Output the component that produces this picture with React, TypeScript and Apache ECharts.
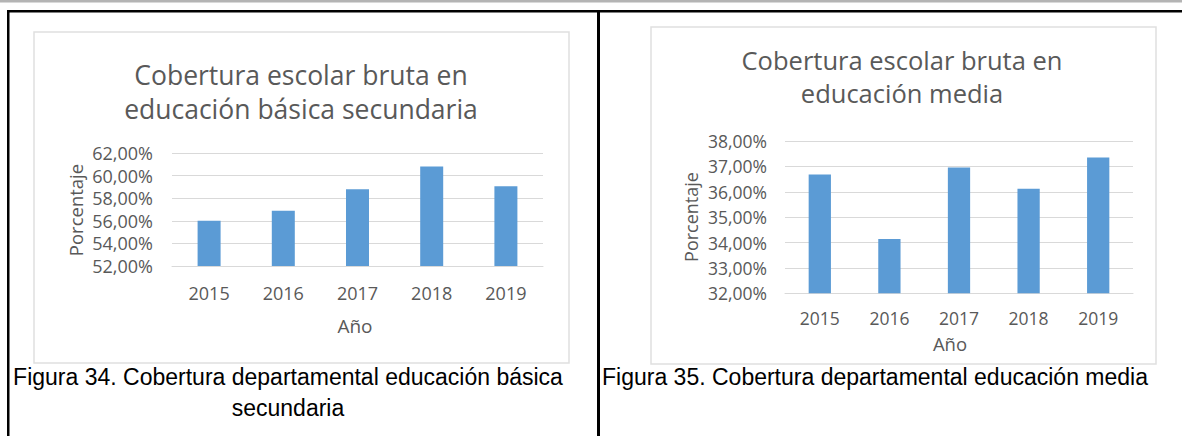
import React, { useEffect, useRef } from "react";
import * as echarts from "echarts";

const years = ["2015", "2016", "2017", "2018", "2019"];
const basicaSecundaria = [56.0, 56.9, 58.8, 60.8, 59.05];
const educacionMedia = [36.68, 34.14, 36.96, 36.12, 37.35];

const titleLeft = ["Cobertura escolar bruta en", "educación básica secundaria"];
const titleRight = ["Cobertura escolar bruta en", "educación media"];
const captionLeft = ["Figura 34. Cobertura departamental educación básica", "secundaria"];
const captionRight = ["Figura 35. Cobertura departamental educación media"];
const yName = "Porcentaje";
const xName = "Año";

const GRAY = "#595959";
const FONT = "'Open Sans', sans-serif";
const CAP_FONT = "'Liberation Sans', Arial, sans-serif";
const BAR = "#5b9bd5";
const GRID = "#d9d9d9";

const fmt = (v: number) => v.toFixed(2).replace(".", ",") + "%";

export default function App() {
  const ref = useRef<HTMLDivElement>(null);
  useEffect(() => {
    if (!ref.current) return;
    const chart = echarts.init(ref.current, undefined, { renderer: "svg" });

    const txt = (text: string, x: number, y: number, size: number, color: string, family: string, rotation = 0) => ({
      type: "text",
      x,
      y,
      rotation,
      style: {
        text,
        fill: color,
        font: `${size}px ${family}`,
        align: "center",
        verticalAlign: "middle",
      },
      z: 10,
    });

    const catAxis = (gridIndex: number, size: number, margin: number) => ({
      type: "category",
      gridIndex,
      data: years,
      axisLine: { show: true, lineStyle: { color: GRID, width: 1 } },
      axisTick: { show: false },
      axisLabel: { color: GRAY, fontSize: size, fontFamily: FONT, margin },
    });
    const valAxis = (gridIndex: number, min: number, max: number, interval: number, margin: number, size: number) => ({
      type: "value",
      gridIndex,
      min,
      max,
      interval,
      axisLine: { show: false },
      axisTick: { show: false },
      splitLine: { show: true, lineStyle: { color: GRID, width: 1 } },
      axisLabel: { color: GRAY, fontSize: size, fontFamily: FONT, margin, formatter: fmt },
    });

    chart.setOption({
      animation: false,
      backgroundColor: "#ffffff",
      grid: [
        { left: 172, top: 153, width: 371, height: 113 },
        { left: 785, top: 141, width: 348, height: 152.3 },
      ],
      xAxis: [catAxis(0, 18, 18), catAxis(1, 17.5, 16)],
      yAxis: [valAxis(0, 52, 62, 2, 19, 18), valAxis(1, 32, 38, 1, 18, 17.5)],
      series: [
        {
          type: "bar",
          xAxisIndex: 0,
          yAxisIndex: 0,
          data: basicaSecundaria,
          barWidth: "31%",
          itemStyle: { color: BAR },
        },
        {
          type: "bar",
          xAxisIndex: 1,
          yAxisIndex: 1,
          data: educacionMedia,
          barWidth: "32%",
          itemStyle: { color: BAR },
        },
      ],
      graphic: [
        { type: "rect", shape: { x: 0, y: 0, width: 1182, height: 2.5 }, style: { fill: "#b4b4b4" } },
        { type: "rect", shape: { x: 7, y: 10, width: 1175, height: 2.5 }, style: { fill: "#000" } },
        { type: "rect", shape: { x: 7, y: 10, width: 2.5, height: 426 }, style: { fill: "#000" } },
        { type: "rect", shape: { x: 597, y: 10, width: 3, height: 426 }, style: { fill: "#000" } },
        { type: "rect", shape: { x: 34, y: 32, width: 535, height: 331 }, style: { fill: "none", stroke: "#e0e0e0", lineWidth: 1.5 } },
        { type: "rect", shape: { x: 651, y: 27, width: 505, height: 337 }, style: { fill: "none", stroke: "#e0e0e0", lineWidth: 1.5 } },
        txt(titleLeft[0], 301, 75, 26.5, GRAY, FONT),
        txt(titleLeft[1], 301, 109, 26.5, GRAY, FONT),
        txt(titleRight[0], 902, 60, 25.5, GRAY, FONT),
        txt(titleRight[1], 902, 93, 25.5, GRAY, FONT),
        txt(yName, 75, 210, 18.5, GRAY, FONT, Math.PI / 2),
        txt(yName, 691, 217, 18, GRAY, FONT, Math.PI / 2),
        txt(xName, 355, 326, 19, GRAY, FONT),
        txt(xName, 950, 343, 18.5, GRAY, FONT),
        txt(captionLeft[0], 288, 377, 23, "#000", CAP_FONT),
        txt(captionLeft[1], 288, 408, 23, "#000", CAP_FONT),
        txt(captionRight[0], 875, 377, 23, "#000", CAP_FONT),
      ],
    });
    return () => chart.dispose();
  }, []);
  return <div ref={ref} style={{ position: "absolute", left: 0, top: 0, width: 1182, height: 436 }} />;
}
